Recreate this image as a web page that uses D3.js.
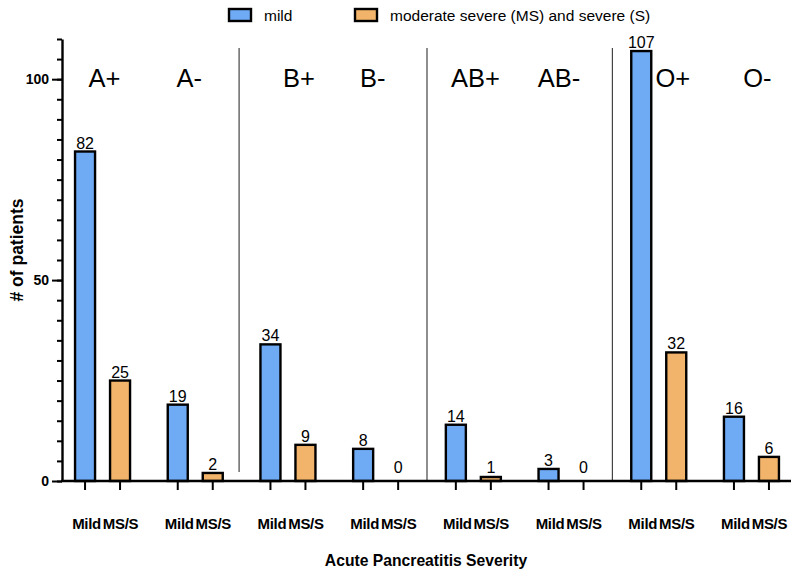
<!DOCTYPE html>
<html><head><meta charset="utf-8">
<script src="https://cdn.jsdelivr.net/npm/d3@7"></script>
<style>body{margin:0;background:#fff}svg{font-family:"Liberation Sans",Arial,sans-serif}</style>
</head><body><svg id="c" width="800" height="578"></svg>
<script>
const groups = ["A+","A-","B+","B-","AB+","AB-","O+","O-"];
const series = ["mild","severe"];
const mildValues = [82,19,34,8,14,3,107,16];
const severeValues = [25,2,9,0,1,0,32,6];
const tickLabels = ["Mild","MS/S"];
const legendLabels = ["mild","moderate severe (MS) and severe (S)"];
const yMajorTicks = [0,50,100];
const yMinorTicks = d3.range(0,111,5);
const colors = {mild:"#6FABF5", severe:"#F2B46A"};
// layout nudges for the blood-group headings (not data)
const headingNudge = [2,-6,11,-8,2,-7,14,6];

const svg = d3.select("#c");
const y = d3.scaleLinear().domain([0,110]).range([481,39]);
const x = d3.scaleBand().domain(groups).range([56.2,797.8]);
const inner = d3.scalePoint().domain(series).range([-17.5,17.5]);
const cx = (g,s) => x(g) + x.bandwidth()/2 + inner(s);
const barW = 20;

const data = [];
groups.forEach((g,i)=>{
  data.push({g, s:"mild", v:mildValues[i]});
  data.push({g, s:"severe", v:severeValues[i]});
});

// separators
const seps = [1,3,5].map(i => (x(groups[i]) + x.bandwidth() + x(groups[i+1]))/2 - (i===1?2.5:0));
svg.selectAll("line.sep").data(seps).join("line")
  .attr("x1",d=>d).attr("x2",d=>d)
  .attr("y1",48).attr("y2",(d,i)=>i===0?472:481)
  .attr("stroke","#444").attr("stroke-width",1.2);

// bars
svg.selectAll("rect.bar").data(data.filter(d=>d.v>0)).join("rect")
  .attr("x",d=>cx(d.g,d.s)-barW/2)
  .attr("y",d=>y(d.v))
  .attr("width",barW)
  .attr("height",d=>y(0)-y(d.v))
  .attr("fill",d=>colors[d.s])
  .attr("stroke","#000").attr("stroke-width",2.4);

// value labels
svg.selectAll("text.val").data(data).join("text")
  .attr("x",d=>cx(d.g,d.s))
  .attr("y",d=>Math.min(y(d.v)-3, y(0)-8))
  .attr("text-anchor","middle")
  .attr("font-size",16).attr("fill","#000")
  .text(d=>d.v);

// group labels
svg.selectAll("text.grp").data(groups).join("text")
  .attr("x",(d,i)=>x(d)+x.bandwidth()/2+headingNudge[i])
  .attr("y",87)
  .attr("text-anchor","middle")
  .attr("font-size",25.5).attr("fill","#000")
  .text(d=>d);

// y axis minor
svg.append("g").attr("transform","translate(62,0)")
  .call(d3.axisLeft(y).tickValues(yMinorTicks).tickSize(5).tickFormat("").tickSizeOuter(0))
  .call(g=>g.select(".domain").attr("stroke-width",2.4))
  .call(g=>g.selectAll(".tick line").attr("stroke-width",2));
svg.append("g").attr("transform","translate(62,0)")
  .call(d3.axisLeft(y).tickValues(yMajorTicks).tickSize(10).tickPadding(3).tickSizeOuter(0))
  .call(g=>g.select(".domain").remove())
  .call(g=>g.selectAll(".tick line").attr("stroke-width",2))
  .call(g=>g.selectAll("text").attr("font-size",14).attr("font-weight","bold").attr("fill","#000").attr("font-family","Liberation Sans, Arial, sans-serif"));

// x axis
svg.append("line").attr("x1",61).attr("x2",791).attr("y1",y(0)).attr("y2",y(0))
  .attr("stroke","#000").attr("stroke-width",2.4);
svg.selectAll("line.xt").data(data).join("line")
  .attr("x1",d=>cx(d.g,d.s)).attr("x2",d=>cx(d.g,d.s))
  .attr("y1",y(0)).attr("y2",y(0)+9)
  .attr("stroke","#000").attr("stroke-width",2);
svg.selectAll("text.xl").data(data).join("text")
  .attr("x",d=>cx(d.g,d.s)+(d.s==="mild"?1.5:0.5))
  .attr("y",529)
  .attr("text-anchor","middle")
  .attr("font-size",15).attr("font-weight","bold").attr("fill","#000")
  .attr("letter-spacing",-0.3)
  .text(d=>tickLabels[series.indexOf(d.s)]);

// axis titles
svg.append("text").attr("x",426).attr("y",566).attr("text-anchor","middle")
  .attr("font-size",15.7).attr("font-weight","bold").text("Acute Pancreatitis Severity");
svg.append("text").attr("transform","translate(23,250) rotate(-90)").attr("text-anchor","middle")
  .attr("font-size",17.5).attr("font-weight","bold").text("# of patients");

// legend
const lx = [229,355];
const lg = svg.selectAll("g.leg").data(series).join("g")
  .attr("transform",(d,i)=>`translate(${lx[i]},9)`);
lg.append("rect").attr("width",22).attr("height",12)
  .attr("fill",d=>colors[d]).attr("stroke","#000").attr("stroke-width",2.4);
lg.append("text").attr("x",35).attr("y",12).attr("font-size",15.5).text((d,i)=>legendLabels[i]);
</script></body></html>
